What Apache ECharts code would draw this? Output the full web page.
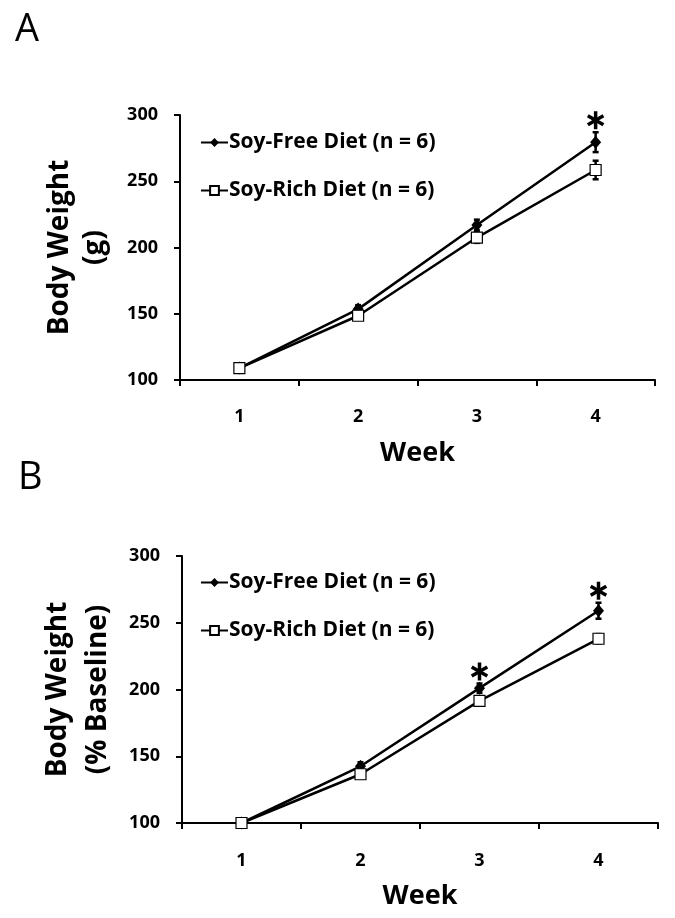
<!DOCTYPE html>
<html>
<head>
<meta charset="utf-8">
<script src="https://cdn.jsdelivr.net/npm/echarts@6/dist/echarts.min.js"></script>
<style>
html, body { margin: 0; padding: 0; background: #fff; }
#chart { width: 675px; height: 918px; }
</style>
</head>
<body>
<div id="chart"></div>
<script>
// weeks on the x axis
var weeks = ['1', '2', '3', '4'];
var yTicks = [100, 150, 200, 250, 300];

// panel A: body weight (g)
var freeA = [109, 153.5, 217, 279.5];
var freeAErr = [2, 3, 4, 7.5];
var richA = [109, 148.5, 207.5, 258.5];
var richAErr = [2, 3, 4, 7];
var starA = ['', '', '', '*'];

// panel B: body weight (% baseline)
var freeB = [100, 142.5, 201, 259];
var freeBErr = [0.5, 3, 3.5, 6];
var richB = [100, 136.5, 191.5, 238];
var richBErr = [0.5, 3, 2.5, 3.5];
var starB = ['', '', '*', '*'];

var font = '"Open Sans", "DejaVu Sans", sans-serif';

function errSeries(vals, errs, idx) {
	return {
		type: 'custom',
		xAxisIndex: idx,
		yAxisIndex: idx,
		z: 1,
		silent: true,
		data: vals.map(function (v, i) { return [i, v, errs[i]]; }),
		renderItem: function (params, api) {
			var x = api.coord([api.value(0), api.value(1)])[0];
			var top = api.coord([api.value(0), api.value(1) + api.value(2)])[1];
			var bot = api.coord([api.value(0), api.value(1) - api.value(2)])[1];
			var style = { stroke: '#000', lineWidth: 2.5 };
			return {
				type: 'group',
				children: [
					{ type: 'line', shape: { x1: x, y1: top, x2: x, y2: bot }, style: style },
					{ type: 'line', shape: { x1: x - 3, y1: top, x2: x + 3, y2: top }, style: style },
					{ type: 'line', shape: { x1: x - 3, y1: bot, x2: x + 3, y2: bot }, style: style }
				]
			};
		}
	};
}

// six-armed asterisk just above the soy-free error bar
function starSeries(vals, errs, marks, idx) {
	return {
		type: 'custom',
		xAxisIndex: idx,
		yAxisIndex: idx,
		silent: true,
		z: 4,
		data: vals.map(function (v, i) { return [i, v + errs[i]]; }),
		renderItem: function (params, api) {
			if (!marks[params.dataIndex]) return null;
			var p = api.coord([api.value(0), api.value(1)]);
			var cx = p[0], cy = p[1] - 12, r = 9;
			var style = { stroke: '#000', lineWidth: 3.5 };
			var kids = [];
			[90, 30, -30].forEach(function (deg) {
				var a = deg * Math.PI / 180;
				var dx = r * Math.cos(a), dy = r * Math.sin(a);
				kids.push({ type: 'line', shape: { x1: cx - dx, y1: cy - dy, x2: cx + dx, y2: cy + dy }, style: style });
			});
			return { type: 'group', children: kids };
		}
	};
}

function lineSeries(name, vals, idx, filled) {
	return {
		name: name,
		type: 'line',
		xAxisIndex: idx,
		yAxisIndex: idx,
		data: vals,
		z: 3,
		symbol: filled ? 'diamond' : 'rect',
		symbolSize: filled ? [11, 13] : 11,
		showAllSymbol: true,
		lineStyle: { color: '#000', width: 2.5 },
		itemStyle: { color: filled ? '#000' : '#fff', borderColor: '#000', borderWidth: filled ? 0 : 1.2 },
		emphasis: { disabled: true }
	};
}

function xAxis(idx, margin, gap) {
	return {
		type: 'category',
		gridIndex: idx,
		data: weeks,
		name: 'Week',
		nameLocation: 'middle',
		nameGap: gap,
		nameTextStyle: { fontSize: 27, fontWeight: 'bold', fontFamily: font, color: '#000' },
		axisLine: { lineStyle: { color: '#000', width: 2 } },
		axisTick: { show: true, length: 6, lineStyle: { color: '#000', width: 2 } },
		axisLabel: { fontSize: 18, fontWeight: 'bold', fontFamily: font, color: '#000', margin: margin }
	};
}

function yAxis(idx, name, gap, lh) {
	return {
		type: 'value',
		gridIndex: idx,
		min: yTicks[0],
		max: yTicks[yTicks.length - 1],
		interval: 50,
		name: name,
		nameLocation: 'middle',
		nameRotate: 90,
		nameGap: gap,
		nameTextStyle: { fontSize: 28, fontWeight: 'bold', fontFamily: font, color: '#000', lineHeight: lh },
		splitLine: { show: false },
		axisLine: { show: true, lineStyle: { color: '#000', width: 2 } },
		axisTick: { show: true, length: 6, lineStyle: { color: '#000', width: 2 } },
		axisLabel: { fontSize: 18, fontWeight: 'bold', fontFamily: font, color: '#000', margin: 22 }
	};
}

function legend(names, top) {
	return {
		orient: 'vertical',
		left: 195,
		top: top,
		itemWidth: 27,
		itemHeight: 11,
		itemGap: 27,
		selectedMode: false,
		data: names,
		textStyle: { fontSize: 21, fontWeight: 'bold', fontFamily: font, color: '#000', padding: [0, 0, 0, -4] }
	};
}

var namesA = ['Soy-Free Diet (n = 6)', 'Soy-Rich Diet (n = 6)'];
var namesB = ['Soy-Free Diet (n = 6) ', 'Soy-Rich Diet (n = 6) '];

var chart = echarts.init(document.getElementById('chart'), null, { renderer: 'canvas' });
chart.setOption({
	animation: false,
	backgroundColor: '#fff',
	title: [
		{ text: 'A', left: 10, top: 6, textStyle: { fontSize: 38, fontWeight: 'normal', fontFamily: font, color: '#000' } },
		{ text: 'B', left: 13, top: 454, textStyle: { fontSize: 38, fontWeight: 'normal', fontFamily: font, color: '#000' } }
	],
	legend: [legend(namesA, 127), legend(namesB, 567)],
	grid: [
		{ left: 180, top: 115, width: 475, height: 265 },
		{ left: 182, top: 556, width: 476, height: 267 }
	],
	xAxis: [xAxis(0, 28, 60), xAxis(1, 29, 60)],
	yAxis: [yAxis(0, 'Body Weight\n(g)', 67, 35), yAxis(1, 'Body Weight\n(% Baseline)', 63, 40)],
	series: [
		errSeries(freeA, freeAErr, 0),
		errSeries(richA, richAErr, 0),
		lineSeries(namesA[0], freeA, 0, true),
		lineSeries(namesA[1], richA, 0, false),
		starSeries(freeA, freeAErr, starA, 0),
		errSeries(freeB, freeBErr, 1),
		errSeries(richB, richBErr, 1),
		lineSeries(namesB[0], freeB, 1, true),
		lineSeries(namesB[1], richB, 1, false),
		starSeries(freeB, freeBErr, starB, 1)
	]
});
</script>
</body>
</html>
